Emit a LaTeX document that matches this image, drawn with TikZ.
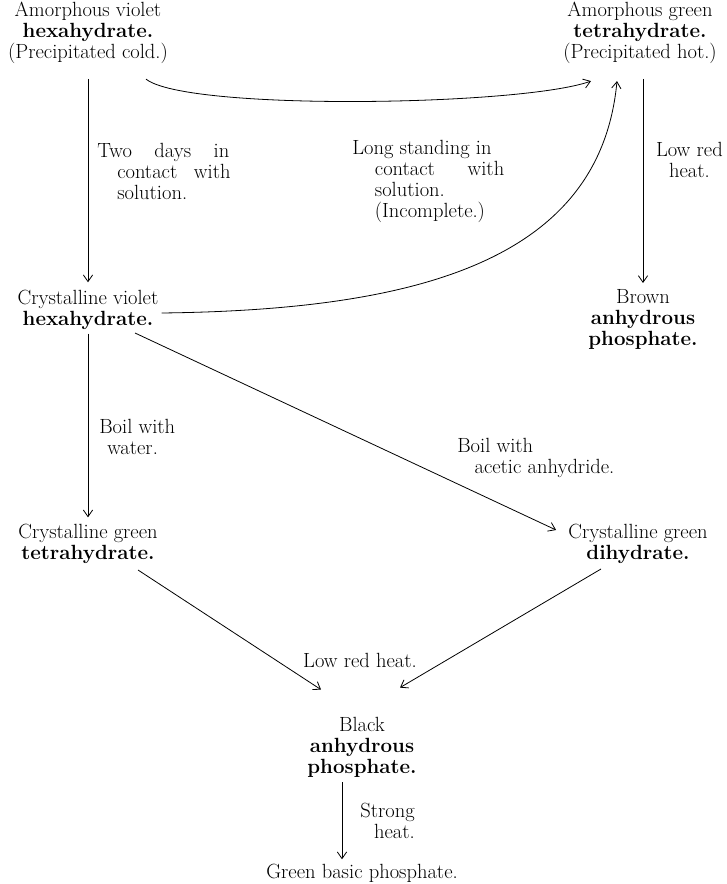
\documentclass[tikz,border=0pt]{standalone}
\usepackage{tikz}
\usetikzlibrary{arrows.meta, positioning}

\begin{document}
\begin{tikzpicture}[
  x=0.75pt, y=-0.75pt,
  cnode/.style={inner sep=0pt, align=center, font=\fontsize{15.4}{15.75}\selectfont},
  lbl/.style={inner sep=0pt, align=left, font=\fontsize{15.4}{15.75}\selectfont},
  arr/.style={-{Straight Barb[length=5pt, width=7pt]}, line width=0.6pt}
]
  \useasboundingbox (0,0) rectangle (727,884);

  % substances
  \node[cnode] (AV) at (88, 33) {Amorphous violet\\ \textbf{hexahydrate.}\\ (Precipitated cold.)};
  \node[cnode] (AG) at (640, 33) {Amorphous green\\ \textbf{tetrahydrate.}\\ (Precipitated hot.)};
  \node[cnode] (CV) at (88, 310) {Crystalline violet\\ \textbf{hexahydrate.}};
  \node[cnode] (BR) at (643, 319) {Brown\\ \textbf{anhydrous}\\ \textbf{phosphate.}};
  \node[cnode] (CG) at (88, 544) {Crystalline green\\ \textbf{tetrahydrate.}};
  \node[cnode] (CD) at (638, 544) {Crystalline green\\ \textbf{dihydrate.}};
  \node[cnode] (BL) at (362, 747) {Black\\ \textbf{anhydrous}\\ \textbf{phosphate.}};
  \node[cnode] (GB) at (362, 873) {Green basic phosphate.};

  % conditions
  \node[lbl, anchor=west] (days) at (97, 171) {\makebox[99pt][s]{Two\hfill days\hfill in}\\
    \hspace*{15pt}\makebox[85pt][s]{contact\hfill with}\\ \hspace*{15pt}solution.};
  \node[lbl, anchor=west] (stand) at (352, 181) {Long standing in\\
    \hspace*{17pt}\makebox[97pt][s]{contact\hfill with}\\ \hspace*{17pt}solution.\\
    \hspace*{17pt}(Incomplete.)};
  \node[lbl, align=center, anchor=east] (redA) at (723, 160) {Low red\\ heat.};
  \node[lbl, anchor=west] (boilW) at (99, 437) {Boil with\\ \hspace*{6pt}water.};
  \node[lbl, anchor=west] (boilAc) at (457, 458) {Boil with\\ \hspace*{13pt}acetic anhydride.};
  \node[lbl] (redB) at (360, 660) {Low red heat.};
  \node[lbl, align=right, anchor=east] (strong) at (415, 821) {Strong\\ heat.};

  % changes
  \draw[arr, shorten <=11pt, shorten >=5.8pt] (AV) -- (CV);
  \draw[arr, shorten <=11pt, shorten >=4.3pt] (AG.south -| BR.north) -- (BR.north);
  \draw[arr] ([shift={(58,15)}]AV.south) .. controls +(40,32) and +(-71,25) .. ([shift={(-49,17)}]AG.south);
  \draw[arr] ([shift={(3,3)}]CV.east) .. controls +(255,-3) and +(-17,180) .. ([shift={(-23,17)}]AG.south);
  \draw[arr, shorten <=2.8pt, shorten >=5pt] (CV) -- (CG);
  \draw[arr] ([shift={(47,3)}]CV.south) -- ([shift={(-12,-14)}]CD.west);
  \draw[arr] ([shift={(50,6)}]CG.south) -- ([shift={(-41,-27)}]BL.north);
  \draw[arr] ([shift={(-37,5)}]CD.south) -- ([shift={(38,-29)}]BL.north);
  \draw[arr, shorten <=3.5pt, shorten >=3.2pt] ([xshift=-15pt]BL.south) -- ([xshift=-15pt]GB.north);
\end{tikzpicture}
\end{document}
